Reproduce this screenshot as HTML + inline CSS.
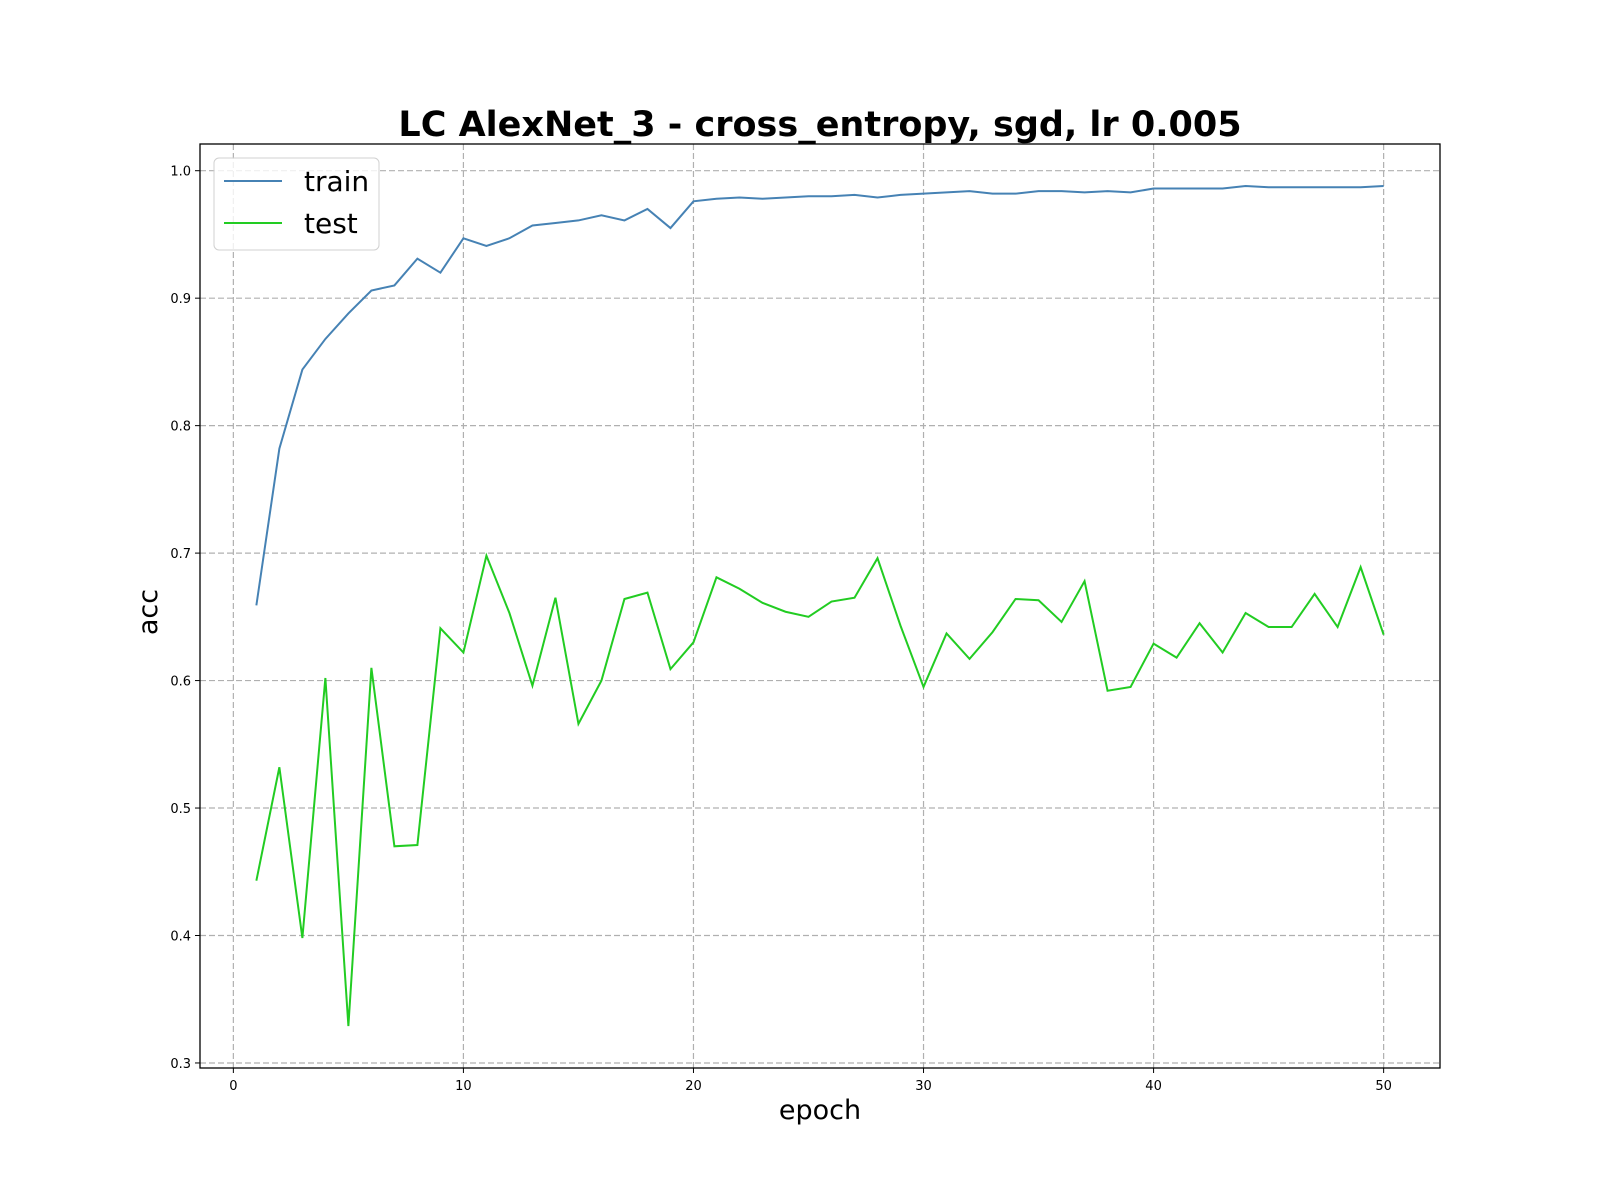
<!DOCTYPE html>
<html><head><meta charset="utf-8"><style>body{margin:0;background:#fff}svg{display:block;font-family:"DejaVu Sans","Liberation Sans",sans-serif}</style></head>
<body>
<svg id="chart" width="1600" height="1200"></svg>
<script>
const epochs=[1,2,3,4,5,6,7,8,9,10,11,12,13,14,15,16,17,18,19,20,21,22,23,24,25,26,27,28,29,30,31,32,33,34,35,36,37,38,39,40,41,42,43,44,45,46,47,48,49,50];
const trainAcc=[0.659,0.782,0.844,0.868,0.888,0.906,0.910,0.931,0.920,0.947,0.941,0.947,0.957,0.959,0.961,0.965,0.961,0.970,0.955,0.976,0.978,0.979,0.978,0.979,0.980,0.980,0.981,0.979,0.981,0.982,0.983,0.984,0.982,0.982,0.984,0.984,0.983,0.984,0.983,0.986,0.986,0.986,0.986,0.988,0.987,0.987,0.987,0.987,0.987,0.988];
const testAcc=[0.443,0.532,0.398,0.602,0.329,0.610,0.470,0.471,0.641,0.622,0.698,0.653,0.596,0.665,0.566,0.600,0.664,0.669,0.609,0.630,0.681,0.672,0.661,0.654,0.650,0.662,0.665,0.696,0.643,0.595,0.637,0.617,0.638,0.664,0.663,0.646,0.678,0.592,0.595,0.629,0.618,0.645,0.622,0.653,0.642,0.642,0.668,0.642,0.689,0.636];
const xTicks=[0,10,20,30,40,50];
const yTicks=[0.3,0.4,0.5,0.6,0.7,0.8,0.9,1.0];
const L=200,R=1440,T=144,B=1068;
const allY=trainAcc.concat(testAcc);
const xmin0=Math.min(...epochs),xmax0=Math.max(...epochs),xm=(xmax0-xmin0)*0.05;
const ymin0=Math.min(...allY),ymax0=Math.max(...allY),ym=(ymax0-ymin0)*0.05;
const X=v=>L+(v-(xmin0-xm))/((xmax0+xm)-(xmin0-xm))*(R-L);
const Y=v=>B-(v-(ymin0-ym))/((ymax0+ym)-(ymin0-ym))*(B-T);
const svg=document.getElementById('chart');
const NS='http://www.w3.org/2000/svg';
function mk(tag,attrs,parent){const e=document.createElementNS(NS,tag);for(const k in attrs)e.setAttribute(k,attrs[k]);(parent||svg).appendChild(e);return e;}
xTicks.forEach(t=>{
 const g=mk('line',{x1:X(t),x2:X(t),y1:T,y2:B,stroke:'#b0b0b0','stroke-dasharray':'6,3','stroke-width':1.2});
 
 
 mk('line',{x1:X(t),x2:X(t),y1:B,y2:B+5,stroke:'#000','stroke-width':1});
 const tx=mk('text',{x:X(t),y:B+22,'text-anchor':'middle','font-size':13});tx.textContent=t;
 
 
});
yTicks.forEach(t=>{
 const g=mk('line',{x1:L,x2:R,y1:Y(t),y2:Y(t),stroke:'#b0b0b0','stroke-dasharray':'6,3','stroke-width':1.2});
 
 
 mk('line',{x1:L-5,x2:L,y1:Y(t),y2:Y(t),stroke:'#000','stroke-width':1});
 const tx=mk('text',{x:L-9,y:Y(t)+5,'text-anchor':'end','font-size':13});tx.textContent=t.toFixed(1);
 
 
});
const tr=mk('polyline',{points:epochs.map((e,i)=>X(e)+','+Y(trainAcc[i])).join(' '),fill:'none',stroke:'#4682b4','stroke-width':2});


const te=mk('polyline',{points:epochs.map((e,i)=>X(e)+','+Y(testAcc[i])).join(' '),fill:'none',stroke:'#22cc22','stroke-width':2});


const fr=mk('rect',{x:L,y:T,width:R-L,height:B-T,fill:'none',stroke:'#000','stroke-width':1.3});


</script>
<svg width="1600" height="1200" style="position:absolute;left:0;top:0;font-family:'DejaVu Sans','Liberation Sans',sans-serif">
 <text x="820" y="136" text-anchor="middle" font-size="35" font-weight="bold">LC AlexNet_3 - cross_entropy, sgd, lr 0.005</text>
 <text x="820" y="1119" text-anchor="middle" font-size="27">epoch</text>
 <text transform="translate(157,612) rotate(-90)" text-anchor="middle" font-size="27">acc</text>
 <g>
  <rect x="214" y="158" width="165" height="92" rx="5" fill="#fff" fill-opacity="0.8" stroke="#d0d0d0"/>
  <line x1="224" x2="282" y1="181" y2="181" stroke="#4682b4" stroke-width="2"/>
  <text x="304" y="191" font-size="28">train</text>
  <line x1="224" x2="282" y1="223" y2="223" stroke="#22cc22" stroke-width="2"/>
  <text x="304" y="233" font-size="28">test</text>
 </g>
</svg>
</body></html>
